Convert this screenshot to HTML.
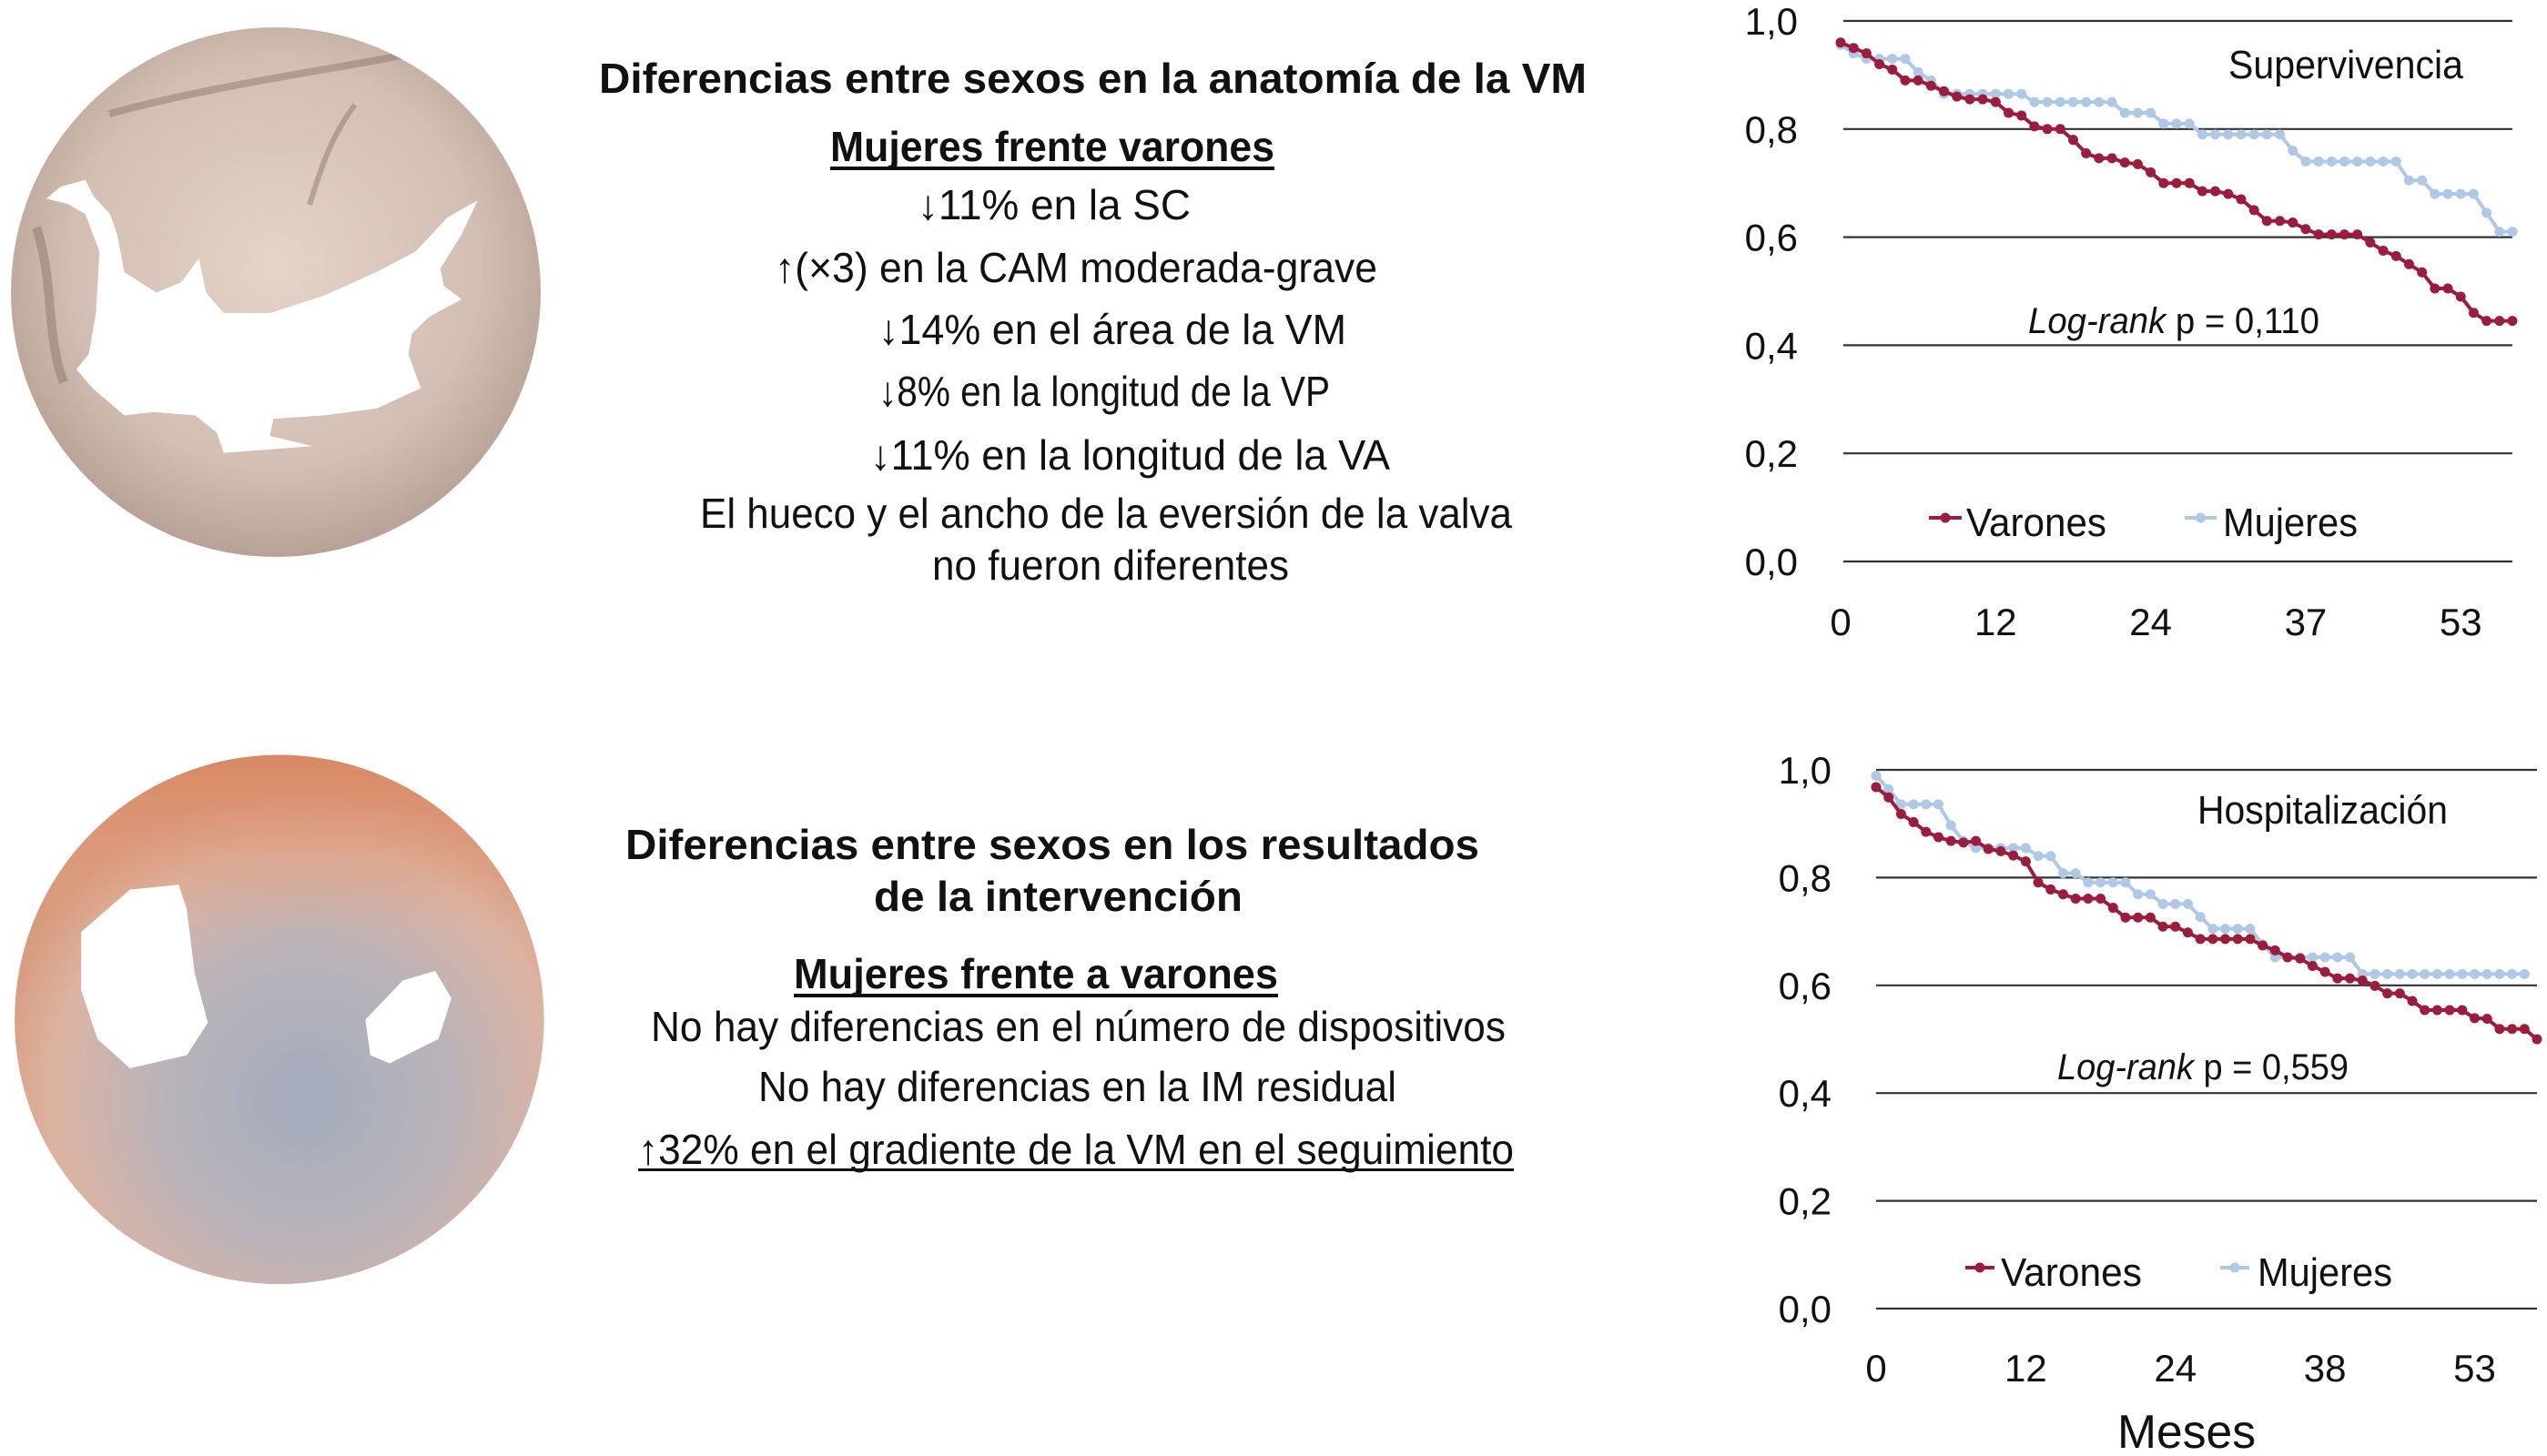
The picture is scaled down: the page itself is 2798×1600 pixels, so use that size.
<!DOCTYPE html>
<html><head><meta charset="utf-8"><style>
html,body{margin:0;padding:0;background:#fff;}
svg{display:block;font-family:"Liberation Sans",sans-serif;}
</style></head><body>
<svg id="root" width="2798" height="1600" viewBox="0 0 2798 1600" xmlns="http://www.w3.org/2000/svg">
<defs>
 <radialGradient id="g1" cx="0.5" cy="0.45" r="0.55">
  <stop offset="0" stop-color="#e6d4c8"/><stop offset="0.7" stop-color="#d2beb2"/><stop offset="1" stop-color="#b8a297"/>
 </radialGradient>
 <radialGradient id="g2" cx="0.55" cy="0.65" r="0.6">
  <stop offset="0" stop-color="#a3acbd"/><stop offset="0.45" stop-color="#b9b3ba"/><stop offset="0.8" stop-color="#dcb3a2"/><stop offset="1" stop-color="#d89b7e"/>
 </radialGradient>
 <linearGradient id="g2top" x1="0" y1="0" x2="0" y2="1">
  <stop offset="0" stop-color="#d98660" stop-opacity="0.9"/><stop offset="1" stop-color="#e3a081" stop-opacity="0"/>
 </linearGradient>
 <clipPath id="c2"><circle cx="172" cy="628" r="163"/></clipPath>
 <clipPath id="c1"><circle cx="303" cy="321" r="291"/></clipPath>
</defs>

<g>
 <circle cx="303" cy="321" r="291" fill="url(#g1)"/>
 <g clip-path="url(#c1)" fill="none" stroke="#7a665e" opacity="0.4">
  <path d="M120,125 C250,90 380,75 470,55" stroke-width="8"/>
  <path d="M390,115 C360,155 350,195 340,225" stroke-width="6"/>
  <path d="M40,250 C60,310 50,370 70,420" stroke-width="10"/>
 </g>
 <polygon transform="translate(4,14) scale(0.39,0.375)" fill="#fff" points="120,545 160,510 230,490 255,540 300,590 320,650 340,760 430,820 500,790 550,720 570,820 620,880 750,880 900,830 1050,760 1160,700 1250,600 1335,550 1290,650 1230,750 1240,800 1290,840 1200,890 1150,940 1140,1000 1175,1100 1050,1160 900,1180 760,1190 750,1240 870,1270 620,1290 600,1230 540,1180 420,1170 340,1180 250,1100 205,1045 240,1000 260,880 270,700 230,590 180,560"/>
</g>

<g transform="scale(1.784)">
 <circle cx="172" cy="628" r="163" fill="url(#g2)"/>
 <g clip-path="url(#c2)"><rect x="0" y="465" width="345" height="110" fill="url(#g2top)"/></g>
 <polygon fill="#fff" points="50,574 80,548 110,545 115,560 120,600 128,630 115,650 80,658 60,640 50,610"/>
 <polygon fill="#fff" points="225,628 248,604 268,598 278,615 270,640 240,655 228,650"/>
</g>

<g font-size="46" fill="#111" text-anchor="start">
 <text x="658" y="102" font-weight="bold" textLength="1085" lengthAdjust="spacingAndGlyphs">Diferencias entre sexos en la anatomía de la VM</text>
 <text x="912" y="177" font-weight="bold" textLength="488" lengthAdjust="spacingAndGlyphs">Mujeres frente varones</text>
 <rect x="912" y="183" width="488" height="4" fill="#111"/>
 <text x="1008" y="241" textLength="300" lengthAdjust="spacingAndGlyphs">↓11% en la SC</text>
 <text x="851" y="310" textLength="662" lengthAdjust="spacingAndGlyphs">↑(×3) en la CAM moderada-grave</text>
 <text x="965" y="378" textLength="514" lengthAdjust="spacingAndGlyphs">↓14% en el área de la VM</text>
 <text x="965" y="446" textLength="496" lengthAdjust="spacingAndGlyphs">↓8% en la longitud de la VP</text>
 <text x="956" y="516" textLength="571" lengthAdjust="spacingAndGlyphs">↓11% en la longitud de la VA</text>
 <text x="769" y="580" textLength="892" lengthAdjust="spacingAndGlyphs">El hueco y el ancho de la eversión de la valva</text>
 <text x="1024" y="637" textLength="392" lengthAdjust="spacingAndGlyphs">no fueron diferentes</text>
</g>

<g font-size="46" fill="#111">
 <text x="687" y="944" font-weight="bold" textLength="938" lengthAdjust="spacingAndGlyphs">Diferencias entre sexos en los resultados</text>
 <text x="960" y="1001" font-weight="bold" textLength="405" lengthAdjust="spacingAndGlyphs">de la intervención</text>
 <text x="872" y="1086" font-weight="bold" textLength="532" lengthAdjust="spacingAndGlyphs">Mujeres frente a varones</text>
 <rect x="872" y="1092" width="532" height="4" fill="#111"/>
 <text x="715" y="1144" textLength="939" lengthAdjust="spacingAndGlyphs">No hay diferencias en el número de dispositivos</text>
 <text x="833" y="1210" textLength="701" lengthAdjust="spacingAndGlyphs">No hay diferencias en la IM residual</text>
 <text x="701" y="1279" textLength="962" lengthAdjust="spacingAndGlyphs">↑32% en el gradiente de la VM en el seguimiento</text>
 <rect x="701" y="1284" width="962" height="3" fill="#111"/>
</g>

<g id="chart1"></g>
<g id="chart2"></g>
<text x="2326" y="1591" font-size="52" fill="#111" textLength="152" lengthAdjust="spacingAndGlyphs">Meses</text>
</svg>
<script>
// ---- chart 1: Supervivencia ----
const c1Ticks = ["0","12","24","37","53"];
const c1TickIdx = [0,12,24,36,48];
const c1YTicks = [0,0.2,0.4,0.6,0.8,1.0];
const c1Varones = [0.96,0.95,0.94,0.92,0.91,0.89,0.89,0.88,0.87,0.86,0.855,0.855,0.85,0.83,0.825,0.805,0.80,0.80,0.78,0.755,0.746,0.746,0.738,0.735,0.72,0.70,0.70,0.70,0.685,0.685,0.68,0.67,0.65,0.63,0.63,0.627,0.615,0.605,0.605,0.605,0.605,0.59,0.575,0.565,0.55,0.535,0.505,0.505,0.49,0.46,0.445,0.445,0.445];
const c1Mujeres = [0.956,0.94,0.93,0.93,0.93,0.93,0.905,0.89,0.865,0.865,0.865,0.865,0.865,0.865,0.865,0.85,0.85,0.85,0.85,0.85,0.85,0.85,0.83,0.83,0.83,0.81,0.81,0.81,0.79,0.79,0.79,0.79,0.79,0.79,0.79,0.76,0.74,0.74,0.74,0.74,0.74,0.74,0.74,0.74,0.705,0.705,0.68,0.68,0.68,0.68,0.645,0.61,0.61];
// ---- chart 2: Hospitalización ----
const c2Ticks = ["0","12","24","38","53"];
const c2TickIdx = [0,12,24,36,48];
const c2YTicks = [0,0.2,0.4,0.6,0.8,1.0];
const c2Varones = [0.968,0.949,0.918,0.903,0.885,0.875,0.868,0.865,0.868,0.853,0.849,0.841,0.83,0.791,0.778,0.769,0.761,0.761,0.761,0.744,0.726,0.726,0.726,0.709,0.709,0.698,0.686,0.686,0.686,0.686,0.686,0.674,0.665,0.652,0.65,0.636,0.625,0.613,0.613,0.609,0.599,0.585,0.585,0.571,0.554,0.554,0.554,0.554,0.539,0.538,0.519,0.519,0.519,0.5];
const c2Mujeres = [0.989,0.964,0.936,0.936,0.936,0.936,0.897,0.868,0.855,0.855,0.855,0.855,0.855,0.84,0.84,0.808,0.808,0.791,0.791,0.791,0.791,0.769,0.769,0.751,0.751,0.751,0.727,0.705,0.705,0.705,0.705,0.676,0.652,0.652,0.652,0.652,0.652,0.652,0.652,0.621,0.621,0.621,0.621,0.621,0.621,0.621,0.621,0.621,0.621,0.621,0.621,0.621,0.621];

const NS="http://www.w3.org/2000/svg";
const RED="#9b1c3c", BLUE="#afc8e6";
function mk(tag, attrs, parent){const e=document.createElementNS(NS,tag);for(const k in attrs)e.setAttribute(k,attrs[k]);parent.appendChild(e);return e;}

function drawChart(g, cfg){
  const xs=i=>cfg.x0+i*(cfg.x1-cfg.x0)/(cfg.n-1);
  const ys=v=>cfg.y0+(cfg.y1-cfg.y0)*v;
  cfg.yTicks.forEach(v=>{
    const l=mk('line',{x1:cfg.gx0,x2:cfg.gx1,y1:ys(v),y2:ys(v),stroke:'#333','stroke-width':2.2},g);
    
    
    const t=mk('text',{x:cfg.ylabX,y:ys(v)+15,'font-size':42,'text-anchor':'end',fill:'#111'},g);
    
    
    t.textContent=v.toFixed(1).replace('.',',');
  });
  cfg.ticks.forEach((lab,k)=>{
    const t=mk('text',{x:xs(cfg.tickIdx[k]),y:cfg.xlabY,'font-size':42,'text-anchor':'middle',fill:'#111'},g);
    
    
    t.textContent=lab;
  });
  [[cfg.mujeres,BLUE,'mujeres'],[cfg.varones,RED,'varones']].forEach(([arr,col,nm])=>{
    const pts=arr.map((v,i)=>xs(i)+','+ys(v)).join(' ');
    const pl=mk('polyline',{points:pts,fill:'none',stroke:col,'stroke-width':4},g);
    
    
    arr.forEach((v,i)=>{
      const c=mk('circle',{cx:xs(i),cy:ys(v),r:5.5,fill:col},g);
      
      
    });
  });
  const tt=mk('text',{x:cfg.title[0],y:cfg.title[1],'font-size':44,fill:'#111',textLength:cfg.title[2],lengthAdjust:'spacingAndGlyphs'},g);
  
  
  tt.textContent=cfg.title[3];
  const lr=mk('text',{x:cfg.lr[0],y:cfg.lr[1],'font-size':40,fill:'#111',textLength:cfg.lr[2],lengthAdjust:'spacingAndGlyphs'},g);
  
  
  const ts=document.createElementNS(NS,'tspan');ts.setAttribute('font-style','italic');ts.textContent='Log-rank';lr.appendChild(ts);
  lr.appendChild(document.createTextNode(' p = '+cfg.lr[3]));
  [[cfg.leg[0],RED,'Varones'],[cfg.leg[1],BLUE,'Mujeres']].forEach(([p,col,nm])=>{
    const lg=mk('g',{},g);
    
    
    mk('line',{x1:p[0],x2:p[1],y1:p[2],y2:p[2],stroke:col,'stroke-width':4},lg);
    mk('circle',{cx:(p[0]+p[1])/2,cy:p[2],r:5.5,fill:col},lg);
    const t=mk('text',{x:p[3],y:p[4],'font-size':44,fill:'#111',textLength:p[5],lengthAdjust:'spacingAndGlyphs'},lg);
    t.textContent=nm;
  });
}
drawChart(document.getElementById('chart1'),{
  n:c1Varones.length,x0:2022,x1:2760,gx0:2025,gx1:2760,y0:617,y1:23,ylabX:1975,xlabY:698,
  yTicks:c1YTicks,ticks:c1Ticks,tickIdx:c1TickIdx,varones:c1Varones,mujeres:c1Mujeres,
  title:[2448,86,258,'Supervivencia'],lr:[2228,366,320,'0,110'],
  leg:[[2119,2155,569,2160,589,154],[2400,2435,569,2442,589,148]]
});
drawChart(document.getElementById('chart2'),{
  n:c2Varones.length,x0:2061,x1:2787,gx0:2061,gx1:2787,y0:1438,y1:846,ylabX:2012,xlabY:1518,
  yTicks:c2YTicks,ticks:c2Ticks,tickIdx:c2TickIdx,varones:c2Varones,mujeres:c2Mujeres,
  title:[2414,905,275,'Hospitalización'],lr:[2260,1186,320,'0,559'],
  leg:[[2159,2191,1393,2198,1413,155],[2439,2471,1393,2480,1413,148]]
});
</script>
</body></html>
